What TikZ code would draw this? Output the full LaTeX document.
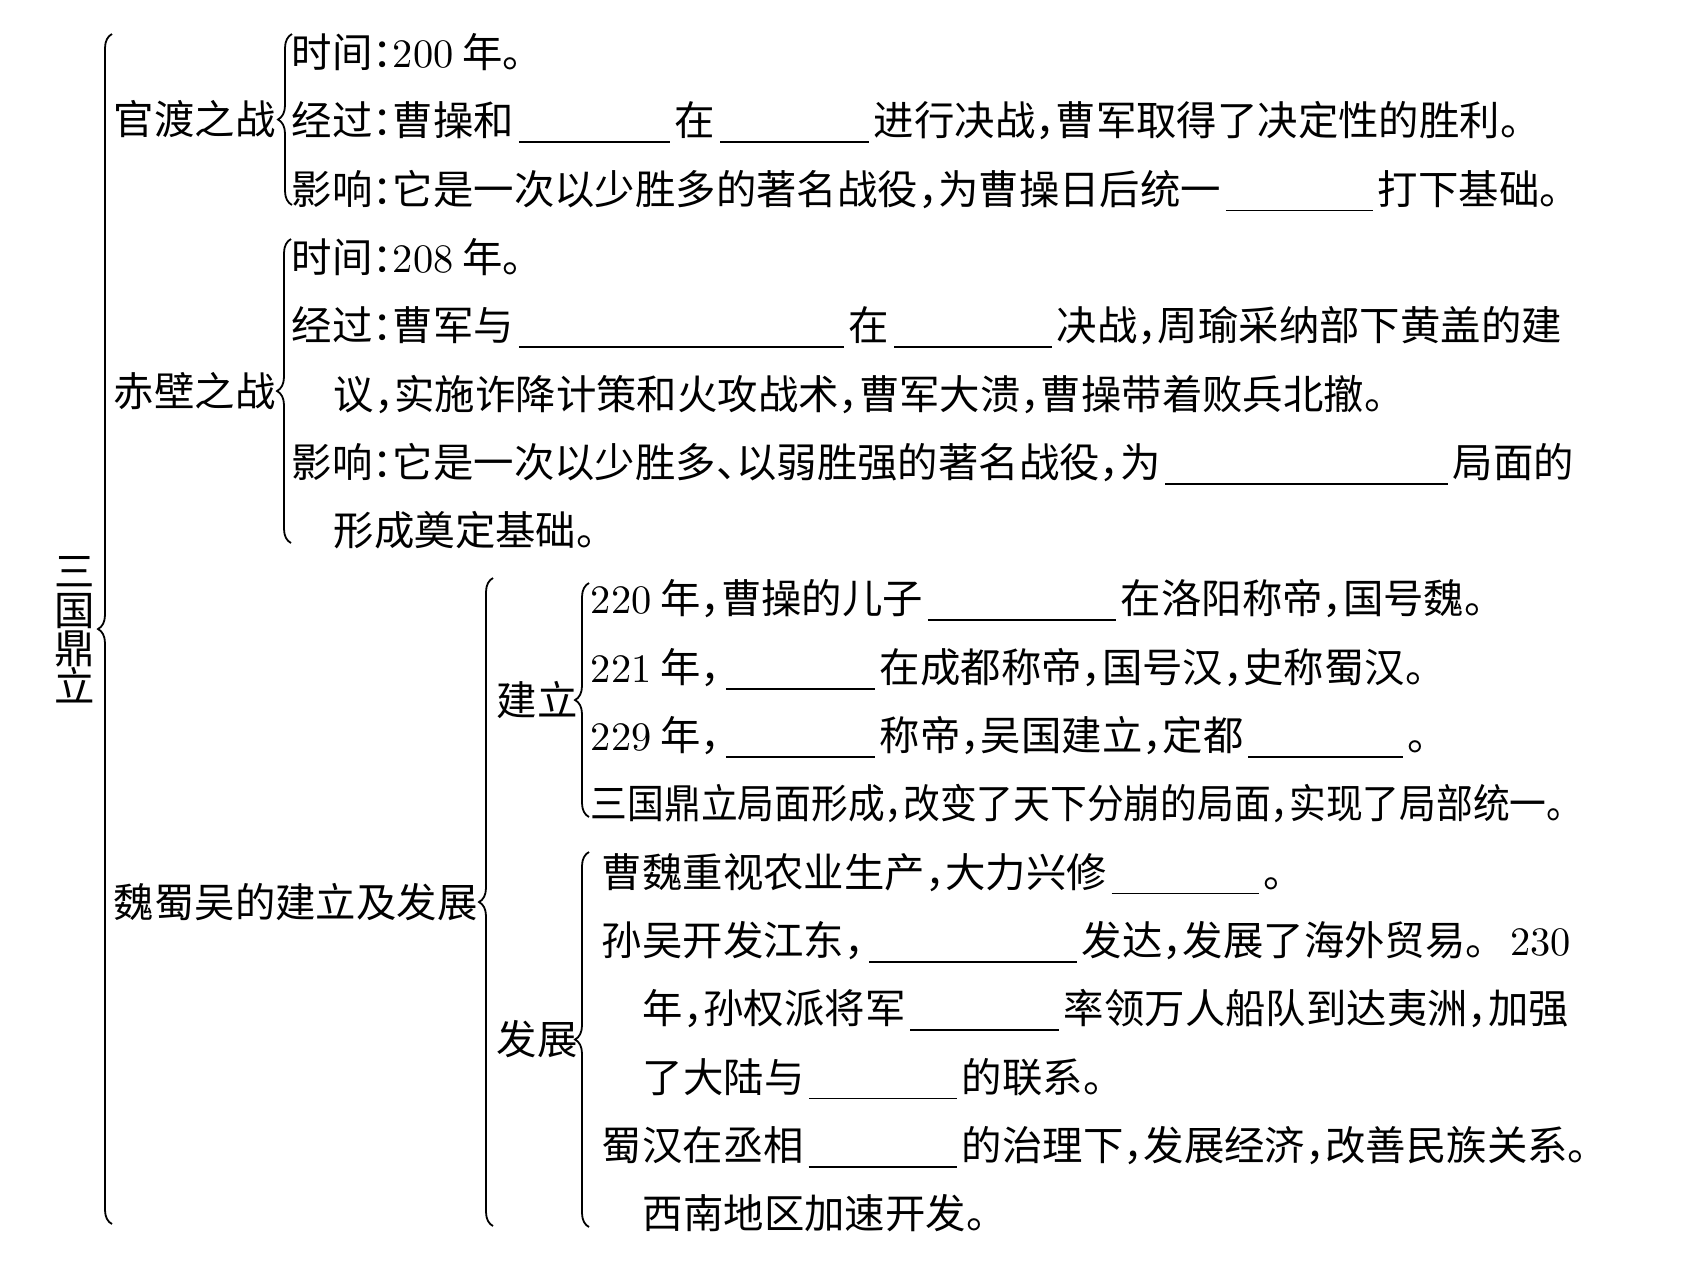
\documentclass[tikz,border=0pt]{standalone}
\usepackage{fontspec}
\newfontfamily\cjk{Noto Sans CJK SC}[RawFeature=+halt]
\usetikzlibrary{decorations.pathreplacing, calc}

\newcommand{\yr}[1]{{\rmfamily #1}}

\begin{document}
\begin{tikzpicture}[
    x=0.25pt, y=-0.25pt,
    txt/.style={anchor=base west, inner sep=0pt, font=\cjk\fontsize{10.1}{12}\selectfont},
    vtxt/.style={inner sep=0pt, align=center, font=\cjk\fontsize{10.1}{9.6}\selectfont},
    brc/.style={decorate, decoration={brace, amplitude=3.5pt}, line width=0.45pt},
    blank/.style={line width=0.45pt},
]
\useasboundingbox (0,0) rectangle (1691,1268);

% ── Left labels ──
\node[vtxt] (sgdl) at (75,630) {三\\国\\鼎\\立};
\node[txt] (gd) at (113,134.5) {官渡之战};
\node[txt] (cb) at (113,406) {赤壁之战};
\node[txt] (wsw) at (113,917) {魏蜀吴的建立及发展};
\node[txt] (jl) at (496,715) {建立};
\node[txt] (fz) at (496,1054.5) {发展};

% ── Braces ──
\draw[brc] (112,1224) -- (112,34);
\draw[brc] (292,205) -- (292,34);
\draw[brc] (291,543) -- (291,239);
\draw[brc] (493,1226) -- (493,578);
\draw[brc] (589,817) -- (589,583);
\draw[brc] (589,1227) -- (589,852);

% ── 官渡之战 ──
\node[txt] (r1) at (291,67.5) {时间：\yr{200} 年。};
\node[txt] (r2a) at (291,135.8) {经过：曹操和};
\node[txt] (r2b) at (674,135.8) {在};
\node[txt] (r2c) at (873,135.8) {进行决战，曹军取得了决定性的胜利。};
\node[txt] (r3a) at (291,204.1) {影响：它是一次以少胜多的著名战役，为曹操日后统一};
\node[txt] (r3b) at (1377,204.1) {打下基础。};

% ── 赤壁之战 ──
\node[txt] (r4) at (291,272.4) {时间：\yr{208} 年。};
\node[txt] (r5a) at (291,340.7) {经过：曹军与};
\node[txt] (r5b) at (848,340.7) {在};
\node[txt] (r5c) at (1056,340.7) {决战，周瑜采纳部下黄盖的建};
\node[txt] (r6) at (333,409.0) {议，实施诈降计策和火攻战术，曹军大溃，曹操带着败兵北撤。};
\node[txt] (r7a) at (291,477.3) {影响：它是一次以少胜多、以弱胜强的著名战役，为};
\node[txt] (r7b) at (1452,477.3) {局面的};
\node[txt] (r8) at (333,545.6) {形成奠定基础。};

% ── 建立 ──
\node[txt] (r9a) at (590,613.9) {\yr{220} 年，曹操的儿子};
\node[txt] (r9b) at (1120,613.9) {在洛阳称帝，国号魏。};
\node[txt] (r10a) at (590,682.2) {\yr{221} 年，};
\node[txt] (r10b) at (879,682.2) {在成都称帝，国号汉，史称蜀汉。};
\node[txt] (r11a) at (590,750.5) {\yr{229} 年，};
\node[txt] (r11b) at (879,750.5) {称帝，吴国建立，定都};
\node[txt] (r11c) at (1407,750.5) {。};
\node[txt] (r12) at (590,818.8) {\scalebox{0.91}[1]{三国鼎立局面形成，改变了天下分崩的局面，实现了局部统一。}};

% ── 发展 ──
\node[txt] (r13a) at (601,887.1) {曹魏重视农业生产，大力兴修};
\node[txt] (r13b) at (1263,887.1) {。};
\node[txt] (r14a) at (601,955.4) {孙吴开发江东，};
\node[txt] (r14b) at (1081,955.4) {发达，发展了海外贸易。\hspace{0.6em}\yr{230}};
\node[txt] (r15a) at (642,1023.7) {年，孙权派将军};
\node[txt] (r15b) at (1063,1023.7) {率领万人船队到达夷洲，加强};
\node[txt] (r16a) at (642,1092.0) {了大陆与};
\node[txt] (r16b) at (961,1092.0) {的联系。};
\node[txt] (r17a) at (601,1160.3) {蜀汉在丞相};
\node[txt] (r17b) at (961,1160.3) {的治理下，发展经济，改善民族关系。};
\node[txt] (r18) at (642,1228.6) {西南地区加速开发。};

% ── Blanks ──
\draw[blank] ([xshift=1pt,yshift=-1.6pt]r2a.base east) -- ([xshift=-1pt,yshift=-1.6pt]r2b.base west);
\draw[blank] ([xshift=1pt,yshift=-1.6pt]r2b.base east) -- ([xshift=-1pt,yshift=-1.6pt]r2c.base west);
\draw[blank] ([xshift=1pt,yshift=-1.6pt]r3a.base east) -- ([xshift=-1pt,yshift=-1.6pt]r3b.base west);
\draw[blank] ([xshift=1pt,yshift=-1.6pt]r5a.base east) -- ([xshift=-1pt,yshift=-1.6pt]r5b.base west);
\draw[blank] ([xshift=1pt,yshift=-1.6pt]r5b.base east) -- ([xshift=-1pt,yshift=-1.6pt]r5c.base west);
\draw[blank] ([xshift=1pt,yshift=-1.6pt]r7a.base east) -- ([xshift=-1pt,yshift=-1.6pt]r7b.base west);
\draw[blank] ([xshift=1pt,yshift=-1.6pt]r9a.base east) -- ([xshift=-1pt,yshift=-1.6pt]r9b.base west);
\draw[blank] ([xshift=1pt,yshift=-1.6pt]r10a.base east) -- ([xshift=-1pt,yshift=-1.6pt]r10b.base west);
\draw[blank] ([xshift=1pt,yshift=-1.6pt]r11a.base east) -- ([xshift=-1pt,yshift=-1.6pt]r11b.base west);
\draw[blank] ([xshift=1pt,yshift=-1.6pt]r11b.base east) -- ([xshift=-1pt,yshift=-1.6pt]r11c.base west);
\draw[blank] ([xshift=1pt,yshift=-1.6pt]r13a.base east) -- ([xshift=-1pt,yshift=-1.6pt]r13b.base west);
\draw[blank] ([xshift=1pt,yshift=-1.6pt]r14a.base east) -- ([xshift=-1pt,yshift=-1.6pt]r14b.base west);
\draw[blank] ([xshift=1pt,yshift=-1.6pt]r15a.base east) -- ([xshift=-1pt,yshift=-1.6pt]r15b.base west);
\draw[blank] ([xshift=1pt,yshift=-1.6pt]r16a.base east) -- ([xshift=-1pt,yshift=-1.6pt]r16b.base west);
\draw[blank] ([xshift=1pt,yshift=-1.6pt]r17a.base east) -- ([xshift=-1pt,yshift=-1.6pt]r17b.base west);

\end{tikzpicture}
\end{document}
